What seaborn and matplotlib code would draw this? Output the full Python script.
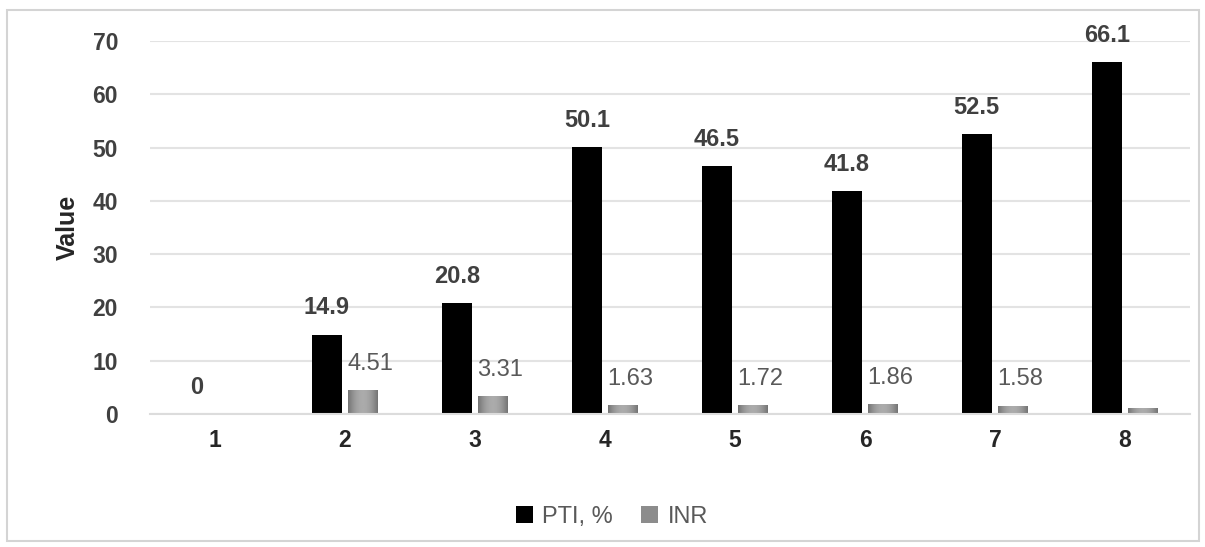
import numpy as np
import pandas as pd
import matplotlib
matplotlib.use("Agg")
import matplotlib.pyplot as plt
from matplotlib.patches import Rectangle
import seaborn as sns

# Values per group
groups = ["1", "2", "3", "4", "5", "6", "7", "8"]
pti_values = [0, 14.9, 20.8, 50.1, 46.5, 41.8, 52.5, 66.1]
inr_values = [0, 4.51, 3.31, 1.63, 1.72, 1.86, 1.58, 1.2]
pti_labels = ["0", "14.9", "20.8", "50.1", "46.5", "41.8", "52.5", "66.1"]
inr_labels = ["", "4.51", "3.31", "1.63", "1.72", "1.86", "1.58", ""]
series_names = ["PTI, %", "INR"]
y_ticks = [0, 10, 20, 30, 40, 50, 60, 70]

sns.set_theme(style="white")
plt.rcParams["font.family"] = ["Liberation Sans", "DejaVu Sans"]
FS = 17
TICK_FS = 16.5

df = pd.DataFrame({
    "group": groups * 2,
    "value": pti_values + inr_values,
    "series": [series_names[0]] * len(groups) + [series_names[1]] * len(groups),
})

fig = plt.figure(figsize=(12.05, 5.47), dpi=100)
ax = fig.add_axes([150 / 1205, 1 - 414 / 547, 1040 / 1205, 373 / 547])

sns.barplot(data=df, x="group", y="value", hue="series", order=groups,
            hue_order=series_names, palette=["#000000", "#8c8c8c"],
            width=0.56, gap=0.19, saturation=1, ax=ax, errorbar=None,
            linewidth=0)

ax.set_ylim(0, 70)
ax.set_xlim(-0.5, len(groups) - 0.5)
ax.set_yticks(y_ticks)
ax.yaxis.grid(True, color="#e3e3e3", linewidth=1.5)
ax.set_axisbelow(True)
for s in ["top", "right", "left"]:
    ax.spines[s].set_visible(False)
ax.spines["bottom"].set_color("#dcdcdc")
ax.spines["bottom"].set_linewidth(1.5)
ax.tick_params(axis="both", length=0)
ax.tick_params(axis="y", pad=23, labelsize=TICK_FS, labelcolor="#404040")
ax.tick_params(axis="x", pad=11, labelsize=TICK_FS, labelcolor="#262626")
for lbl in ax.get_xticklabels() + ax.get_yticklabels():
    lbl.set_fontweight("bold")
ax.set_xlabel("")
ax.set_ylabel("Value", fontsize=FS + 1, fontweight="bold", color="#262626", labelpad=9)

pti_bars, inr_bars = ax.containers[0], ax.containers[1]

# Shaded fill on the INR bars: darker at the sides, lighter in the middle
grad = np.linspace(-1, 1, 64)
shade = 0.45 + 0.22 * (1 - grad ** 2)
img = np.tile(shade, (16, 1))
for patch in inr_bars:
    h = patch.get_height()
    if h <= 0:
        continue
    x0, w = patch.get_x(), patch.get_width()
    im = ax.imshow(img, cmap="gray", vmin=0, vmax=1, aspect="auto",
                   extent=[x0, x0 + w, 0, h], zorder=patch.get_zorder() + 0.1)
    im.set_clip_path(patch)
ax.set_aspect("auto")
ax.set_xlim(-0.5, len(groups) - 0.5)
ax.set_ylim(0, 70)

for patch, text in zip(pti_bars, pti_labels):
    cx = patch.get_x() + patch.get_width() / 2
    ax.annotate(text, (cx, patch.get_height()), xytext=(0, 11),
                textcoords="offset points", ha="center", va="bottom",
                fontsize=FS, fontweight="bold", color="#404040",
                annotation_clip=False)
for patch, text in zip(inr_bars, inr_labels):
    if not text:
        continue
    cx = patch.get_x() + patch.get_width() / 2
    ax.annotate(text, (cx, patch.get_height()), xytext=(5, 11),
                textcoords="offset points", ha="center", va="bottom",
                fontsize=FS, color="#595959", annotation_clip=False)

handles, labels = ax.get_legend_handles_labels()
ax.get_legend().remove()
fig.legend(handles, labels, loc="center", bbox_to_anchor=(0.508, 1 - 517 / 547),
           ncol=2, frameon=False, fontsize=FS, labelcolor="#595959",
           handlelength=0.7, handleheight=0.7, handletextpad=0.4, columnspacing=1.2)

# Outer frame around the chart
fig.patches.append(Rectangle((7 / 1205, 1 - 541 / 547), 1192 / 1205, 531 / 547,
                             transform=fig.transFigure, fill=False,
                             edgecolor="#d4d4d4", linewidth=1.5))

fig.savefig("out.png", dpi=100)
